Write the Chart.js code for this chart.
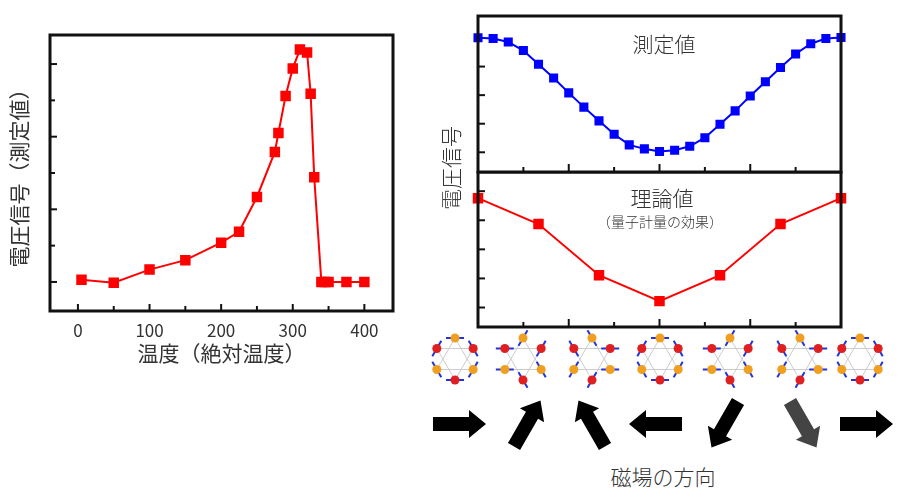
<!DOCTYPE html>
<html lang="ja">
<head>
<meta charset="UTF-8">
<title>電圧信号</title>
<script src="https://cdn.jsdelivr.net/npm/chart.js"></script>
<style>
  body { margin: 0; background: #fff; font-family: "Noto Sans CJK JP", "Noto Sans", sans-serif; color: #333; }
  #wrap { position: relative; width: 900px; height: 493px; overflow: hidden; }
  canvas, svg, .lbl { position: absolute; }
  .lbl { white-space: nowrap; transform: translate(-50%, -50%); font-weight: 300; }
</style>
</head>
<body>
<div id="wrap">
  <canvas id="tempChart" style="left:0;top:0;width:420px;height:370px"></canvas>
  <canvas id="measChart" style="left:420px;top:0;width:480px;height:175px"></canvas>
  <canvas id="theoChart" style="left:420px;top:171px;width:480px;height:159px"></canvas>
  <div class="lbl" style="left:450px;top:168px;transform:translate(-50%,-50%) rotate(-90deg);font-size:21px">電圧信号</div>
  <div class="lbl" style="left:664px;top:43px;font-size:21px">測定値</div>
  <div class="lbl" style="left:662px;top:197px;font-size:21px">理論値</div>
  <div class="lbl" style="left:660px;top:221px;font-size:14px">（量子計量の効果）</div>
  <div class="lbl" style="left:663px;top:476px;font-size:21px">磁場の方向</div>
  <svg id="deco" width="900" height="493" style="left:0;top:0"></svg>
</div>
<script>
// left: temperature dependence
const tempK = [5, 50, 100, 150, 200, 225, 250, 275, 280, 290, 300, 310, 320, 325, 330, 340, 345, 350, 375, 400];
const tempSignal = [0.03, -0.01, 0.17, 0.3, 0.54, 0.69, 1.17, 1.79, 2.05, 2.56, 2.94, 3.2, 3.16, 2.59, 1.44, 0, 0, 0, 0, 0];
const tempTicks = [0, 50, 100, 150, 200, 250, 300, 350, 400];

// right: field direction (index 0..24 = one full turn)
const angleIdx = [0, 1, 2, 3, 4, 5, 6, 7, 8, 9, 10, 11, 12, 13, 14, 15, 16, 17, 18, 19, 20, 21, 22, 23, 24];
const measured = [4.01, 3.98, 3.86, 3.56, 3.08, 2.6, 2.08, 1.58, 1.1, 0.63, 0.26, 0.12, 0.03, 0.07, 0.21, 0.51, 0.98, 1.45, 1.97, 2.47, 2.97, 3.44, 3.8, 3.98, 4.02];
const theoryIdx = [0, 4, 8, 12, 16, 20, 24];
const theory = [3.76, 2.87, 1.11, 0.22, 1.11, 2.87, 3.76];
const fieldAngles = [0, 60, 120, 180, 240, 300, 360];

const inTicks = {
  id: 'inTicks',
  afterDraw(chart, args, opts) {
    const { ctx, chartArea: a, scales } = chart;
    ctx.save();
    ctx.strokeStyle = '#111';
    ctx.lineWidth = 2;
    (opts.x || []).forEach(([v, len]) => {
      const px = scales.x.getPixelForValue(v);
      ctx.beginPath(); ctx.moveTo(px, a.bottom); ctx.lineTo(px, a.bottom - len); ctx.stroke();
    });
    (opts.y || []).forEach(([v, len]) => {
      const py = scales.y.getPixelForValue(v);
      ctx.beginPath(); ctx.moveTo(a.left, py); ctx.lineTo(a.left + len, py); ctx.stroke();
    });
    ctx.lineWidth = 3;
    ctx.strokeRect(a.left, a.top, a.right - a.left, a.bottom - a.top);
    ctx.restore();
  }
};

const font = '"Noto Sans CJK JP", "Noto Sans", sans-serif';

new Chart(document.getElementById('tempChart'), {
  type: 'line',
  data: { datasets: [{ data: tempK.map((t, i) => ({ x: t, y: tempSignal[i] })), borderColor: '#f00', backgroundColor: '#f00', borderWidth: 2, pointStyle: 'rect', pointRadius: 6, tension: 0 }] },
  options: {
    responsive: false, maintainAspectRatio: false, animation: false,
    layout: { padding: { top: 35, right: 27 } },
    plugins: { legend: { display: false }, tooltip: { enabled: false },
      inTicks: { x: tempTicks.map(t => [t, t % 100 === 0 ? 7 : 5]), y: [[0, 7], [0.5, 5], [1, 7], [1.5, 5], [2, 7], [2.5, 5], [3, 7]] } },
    scales: {
      x: { type: 'linear', min: -39, max: 440, grid: { display: false }, border: { display: false },
        afterBuildTicks: s => { s.ticks = tempTicks.map(v => ({ value: v })); },
        afterFit: s => { s.height = 59; },
        ticks: { padding: 1, color: '#333', font: { family: font, size: 17 }, callback: v => (v % 100 === 0 ? v : '') },
        title: { display: true, text: '温度（絶対温度）', color: '#333', font: { family: font, size: 21 }, padding: { top: 0, bottom: 4 } } },
      y: { min: -0.4, max: 3.4, grid: { display: false }, border: { display: false }, ticks: { display: false },
        afterFit: s => { s.width = 50; },
        title: { display: true, text: '電圧信号（測定値）', color: '#333', font: { family: font, size: 21 }, padding: { top: 6 } } }
    }
  },
  plugins: [inTicks]
});

const rightX = [3, 6, 9, 12, 15, 18, 21].map(v => [v, v % 6 === 0 ? 8 : 5]);

function panel(id, xs, ys, color, radius, ymin, ymax, yTicks, pad) {
  new Chart(document.getElementById(id), {
    type: 'line',
    data: { datasets: [{ data: xs.map((x, i) => ({ x, y: ys[i] })), borderColor: color, backgroundColor: color, borderWidth: 2, pointStyle: 'rect', pointRadius: radius, tension: 0, clip: false }] },
    options: {
      responsive: false, maintainAspectRatio: false, animation: false,
      layout: { padding: pad, autoPadding: false },
      plugins: { legend: { display: false }, tooltip: { enabled: false }, inTicks: { x: rightX, y: yTicks.map(v => [v, 7]) } },
      scales: {
        x: { type: 'linear', min: 0, max: 24, display: false },
        y: { min: ymin, max: ymax, display: false }
      }
    },
    plugins: [inTicks]
  });
}
panel('measChart', angleIdx, measured, '#00f', 5, -0.69, 4.77, [0, 1, 2, 3], { left: 58, right: 59, top: 16, bottom: 3 });
panel('theoChart', theoryIdx, theory, '#f00', 6, -0.67, 4.66, [0, 1, 2, 3, 4], { left: 58, right: 59, top: 1, bottom: 3 });

// decoration: spin-structure icons and field-direction arrows
const svg = document.getElementById('deco');
let html = '';
const iconX = [455, 523, 592, 660, 730, 800, 860];
const arrowX = [459, 527, 592, 656, 725, 803, 866];
iconX.forEach((cx, k) => {
  const cy = 359, r = 21;
  const pts = [];
  for (let i = 0; i < 6; i++) {
    const a = (-90 + 60 * i) * Math.PI / 180;
    pts.push([cx + r * Math.cos(a), cy + r * Math.sin(a)]);
  }
  const tri = idx => idx.map(i => pts[i].join(',')).join(' ');
  html += `<polygon points="${tri([0, 2, 4])}" fill="none" stroke="#ccc" stroke-width="1"/>`;
  html += `<polygon points="${tri([1, 3, 5])}" fill="none" stroke="#ccc" stroke-width="1"/>`;
  pts.forEach(([px, py], i) => {
    const spin = (60 * i + fieldAngles[k] * (i % 2 ? 1 : -1)) * Math.PI / 180;
    const dx = Math.cos(spin) * 9, dy = Math.sin(spin) * 9;
    html += `<line x1="${px - dx}" y1="${py - dy}" x2="${px + dx}" y2="${py + dy}" stroke="#2233dd" stroke-width="2"/>`;
    html += `<circle cx="${px}" cy="${py}" r="4.5" fill="${i % 2 ? '#e02020' : '#f0a020'}"/>`;
  });
});
arrowX.forEach((cx, k) => {
  const cy = 424;
  const col = k === 5 ? '#444' : '#000';
  html += `<g transform="translate(${cx},${cy}) rotate(${-fieldAngles[k]})"><polygon points="-26,-7 10,-7 10,-14 27,0 10,14 10,7 -26,7" fill="${col}"/></g>`;
});
svg.innerHTML = html;
</script>
</body>
</html>
